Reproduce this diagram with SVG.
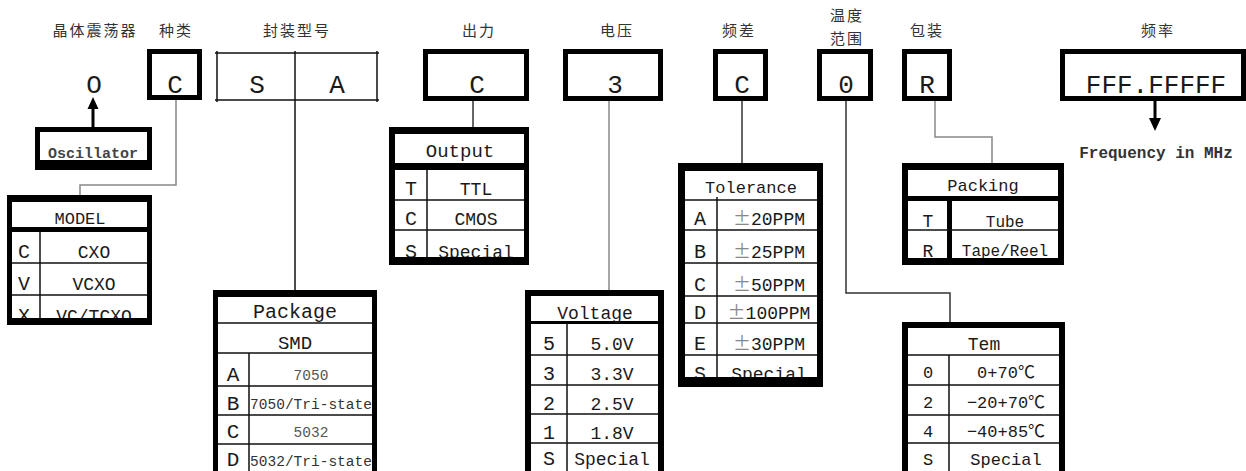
<svg xmlns="http://www.w3.org/2000/svg" width="1246" height="471" viewBox="0 0 1246 471">
<defs>
<style>
.hdr{font-family:"Noto Sans CJK SC","Noto Sans CJK JP",sans-serif;font-size:15px;fill:#333;text-anchor:middle;letter-spacing:2px}
.big{font-family:"Liberation Mono","Noto Sans CJK SC",monospace;font-size:26px;fill:#1a1a1a;text-anchor:middle}
.k{font-family:"Liberation Mono","Noto Sans CJK SC",monospace;font-size:20px;fill:#1a1a1a;text-anchor:middle}
.v{font-family:"Liberation Mono","Noto Sans CJK SC",monospace;font-size:18px;fill:#1a1a1a;text-anchor:middle}
.s{font-family:"Liberation Mono","Noto Sans CJK SC",monospace;font-size:14.5px;fill:#333;text-anchor:middle}
.pm{font-family:"Noto Sans CJK SC",sans-serif;fill:#888}
.frame{fill:#000;fill-rule:evenodd}
.box{fill:none;stroke:#000;stroke-width:5}
.ln{stroke:#111;stroke-width:1.5;fill:none}
.conn{stroke:#333;stroke-width:1.5;fill:none}
.connl{stroke:#888;stroke-width:1.5;fill:none}
</style>
</defs>
<rect width="1246" height="471" fill="#fff"/>

<!-- headers -->
<g id="headers">
<text class="hdr" x="95" y="36">晶体震荡器</text>
<text class="hdr" x="176" y="36">种类</text>
<text class="hdr" x="297" y="36">封装型号</text>
<text class="hdr" x="479" y="36">出力</text>
<text class="hdr" x="617" y="36">电压</text>
<text class="hdr" x="739" y="36">频差</text>
<text class="hdr" x="847" y="21">温度</text>
<text class="hdr" x="847" y="44">范围</text>
<text class="hdr" x="927" y="36">包装</text>
<text class="hdr" x="1158" y="36">频率</text>
</g>

<!-- top code row -->
<g id="code-o"><text class="big" x="94" y="93">O</text></g>
<g id="code-type"><rect class="box" x="149.5" y="51.5" width="50" height="46"/><text class="big" x="175" y="93">C</text></g>
<g id="code-package">
<path class="ln" d="M215 53H379M215 100H379M217 51V102M377 51V102"/>
<text class="big" x="257" y="93">S</text><text class="big" x="337" y="93">A</text>
</g>
<g id="code-output"><rect class="box" x="425.5" y="51.5" width="101" height="47"/><text class="big" x="477" y="93">C</text></g>
<g id="code-voltage"><rect class="box" x="565.5" y="51.5" width="95" height="47"/><text class="big" x="615" y="93">3</text></g>
<g id="code-tolerance"><rect class="box" x="715.5" y="51.5" width="50" height="47"/><text class="big" x="742" y="93">C</text></g>
<g id="code-temp"><rect class="box" x="819.5" y="51.5" width="51" height="47"/><text class="big" x="846" y="93">0</text></g>
<g id="code-packing"><rect class="box" x="904.5" y="51.5" width="45" height="47"/><text class="big" x="927" y="93">R</text></g>
<g id="code-freq"><rect class="box" x="1062.5" y="51.5" width="181" height="47"/><text class="big" x="1156" y="93">FFF.FFFFF</text></g>
<g id="freq-note"><text x="1156" y="158" style="font-family:'Liberation Mono',monospace;font-size:16px;font-weight:bold;fill:#333;text-anchor:middle">Frequency in MHz</text></g>

<!-- oscillator -->
<g id="oscillator">
<text x="93" y="158" style="font-family:'Liberation Mono',monospace;font-size:15px;font-weight:bold;fill:#444;text-anchor:middle">Oscillator</text>
<path class="frame" d="M35 127H152V170H35Z M40 132V160H147V132Z"/>
</g>

<!-- MODEL table -->
<g id="model-table">
<rect x="12" y="227" width="135" height="5" fill="#000"/>
<path class="ln" d="M12 263H147M12 295H147M40 232V318"/>
<text class="v" x="80" y="224" style="font-size:17px">MODEL</text>
<text class="k" x="24" y="258">C</text><text class="v" x="94" y="258">CXO</text>
<text class="k" x="24" y="290">V</text><text class="v" x="94" y="290">VCXO</text>
<text class="k" x="24" y="322">X</text><text class="v" x="94" y="322">VC/TCXO</text>
<path class="frame" d="M7 195H152V325H7Z M12 202V318H147V202Z"/>
</g>

<!-- Package table -->
<g id="package-table">
<path class="ln" d="M218 323H372M218 353H372M218 386H372M218 415H372M218 444H372M249 353V480"/>
<text class="k" x="295" y="318">Package</text>
<text class="k" x="295" y="349" style="font-size:19px">SMD</text>
<text class="k" x="233" y="381" style="font-size:21px">A</text><text class="s" x="311" y="380" style="fill:#555">7050</text>
<text class="k" x="233" y="410" style="font-size:21px">B</text><text class="s" x="311" y="409">7050/Tri-state</text>
<text class="k" x="233" y="438" style="font-size:21px">C</text><text class="s" x="311" y="437" style="fill:#555">5032</text>
<text class="k" x="233" y="466" style="font-size:21px">D</text><text class="s" x="311" y="466">5032/Tri-state</text>
<path class="frame" d="M213 290H377V480H213Z M218 297V480H372V297Z"/>
</g>

<!-- Output table -->
<g id="output-table">
<rect x="395" y="163" width="129" height="7" fill="#000"/>
<path class="ln" d="M395 200H524M395 230H524M427 170V257"/>
<text class="k" x="460" y="157" style="font-size:19px">Output</text>
<text class="k" x="411" y="195">T</text><text class="v" x="476" y="195">TTL</text>
<text class="k" x="411" y="225">C</text><text class="v" x="476" y="225">CMOS</text>
<text class="k" x="411" y="258">S</text><text class="v" x="476" y="258">Special</text>
<path class="frame" d="M389 127H529V265H389Z M395 134V257H524V134Z"/>
</g>

<!-- Voltage table -->
<g id="voltage-table">
<rect x="531" y="321" width="127" height="3" fill="#000"/>
<path class="ln" d="M531 355H658M531 385H658M531 414H658M531 443H658M567 323V480"/>
<text class="v" x="595" y="319">Voltage</text>
<text class="k" x="549" y="350">5</text><text class="v" x="612" y="350">5.0V</text>
<text class="k" x="549" y="380">3</text><text class="v" x="612" y="380">3.3V</text>
<text class="k" x="549" y="410">2</text><text class="v" x="612" y="410">2.5V</text>
<text class="k" x="549" y="439">1</text><text class="v" x="612" y="439">1.8V</text>
<text class="k" x="549" y="465">S</text><text class="v" x="612" y="465">Special</text>
<path class="frame" d="M525 290H664V480H525Z M531 296V480H658V296Z"/>
</g>

<!-- Tolerance table -->
<g id="tolerance-table">
<path class="ln" d="M685 200H817M685 230H817M685 263H817M685 296H817M685 323H817M685 355H817M717 197V377"/>
<text class="v" x="751" y="193" style="font-size:17px">Tolerance</text>
<text class="k" x="700" y="225">A</text><text class="v" x="769" y="225"><tspan class="pm">±</tspan>20PPM</text>
<text class="k" x="700" y="258">B</text><text class="v" x="769" y="258"><tspan class="pm">±</tspan>25PPM</text>
<text class="k" x="700" y="291">C</text><text class="v" x="769" y="291"><tspan class="pm">±</tspan>50PPM</text>
<text class="k" x="700" y="319">D</text><text class="v" x="769" y="319"><tspan class="pm">±</tspan>100PPM</text>
<text class="k" x="700" y="350">E</text><text class="v" x="769" y="350"><tspan class="pm">±</tspan>30PPM</text>
<text class="k" x="700" y="380">S</text><text class="v" x="769" y="380">Special</text>
<path class="frame" d="M678 163H823V387H678Z M685 171V377H817V171Z"/>
</g>

<!-- Packing table -->
<g id="packing-table">
<rect x="908" y="196" width="150" height="5" fill="#000"/>
<rect x="947" y="201" width="5" height="57" fill="#000"/>
<path class="ln" d="M908 230H1058"/>
<text class="v" x="983" y="191" style="font-size:17px">Packing</text>
<text class="k" x="928" y="227" style="font-size:18px">T</text><text class="v" x="1005" y="227" style="font-size:16px">Tube</text>
<text class="k" x="928" y="257" style="font-size:18px">R</text><text class="v" x="1005" y="256" style="font-size:16px">Tape/Reel</text>
<path class="frame" d="M902 163H1064V265H902Z M908 170V258H1058V170Z"/>
</g>

<!-- Tem table -->
<g id="tem-table">
<path class="ln" d="M908 355H1059M908 385H1059M908 415H1059M908 443H1059M949 355V480"/>
<text class="v" x="984" y="350">Tem</text>
<text class="k" x="928" y="378" style="font-size:17px">0</text><text class="v" x="1006" y="378" style="font-size:17px">0+70℃</text>
<text class="k" x="928" y="408" style="font-size:17px">2</text><text class="v" x="1006" y="408" style="font-size:17px">−20+70℃</text>
<text class="k" x="928" y="437" style="font-size:17px">4</text><text class="v" x="1006" y="437" style="font-size:17px">−40+85℃</text>
<text class="k" x="928" y="465" style="font-size:17px">S</text><text class="v" x="1006" y="465" style="font-size:17px">Special</text>
<path class="frame" d="M902 322H1065V480H902Z M908 328V480H1059V328Z"/>
</g>

<!-- connectors -->
<g id="connectors">
<path class="conn" d="M93 127V107" style="stroke:#000;stroke-width:3"/>
<path d="M93 97L87.5 109H98.5Z" fill="#000"/>
<path class="connl" d="M176 100V185H80V195"/>
<path class="ln" d="M295 51V290"/>
<path class="conn" d="M473 101V127"/>
<path class="connl" d="M609 101V290"/>
<path class="conn" d="M742 101V163"/>
<path class="conn" d="M846 101V293H950V322"/>
<path class="connl" d="M935 101V137H992V163"/>
<path class="conn" d="M1155 101V120" style="stroke:#000;stroke-width:3"/>
<path d="M1155 131L1149 118H1161Z" fill="#000"/>
</g>
</svg>
